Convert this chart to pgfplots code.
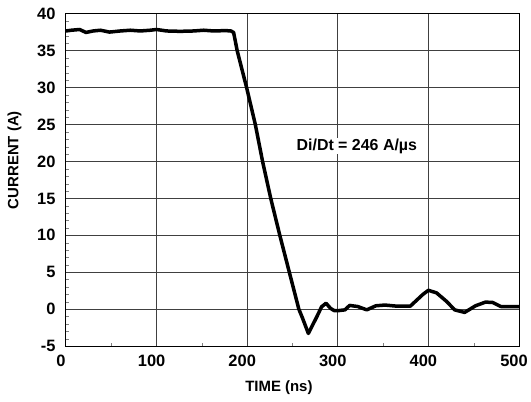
\documentclass[border=0pt]{standalone}
\usepackage{fontspec}
\setmainfont{Liberation Sans}
\usepackage{pgfplots}
\pgfplotsset{compat=1.18}

\begin{document}
\begin{tikzpicture}
\begin{axis}[
    name=ax,
    scale only axis,
    width=453bp, height=332bp,
    xmin=0, xmax=500, ymin=-5, ymax=40,
    xtick={0,100,...,500},
    ytick={-5,0,...,40},
    minor x tick num=1,
    minor y tick num=4,
    tick align=inside,
    major tick length=0pt,
    minor tick length=3bp,
    xtick pos=bottom, ytick pos=left,
    grid=major,
    major grid style={black!75, line width=1bp},
    axis line style={black, line width=1bp},
    /pgf/number format/assume math mode=true,
    tick label style={font=\fontsize{16.5}{18}\selectfont\bfseries},
    xticklabel style={yshift=-6bp, xshift=-5bp},
    yticklabel style={xshift=-7bp},
    xlabel={TIME (ns)},
    ylabel={CURRENT (A)},
    label style={font=\fontsize{15}{17}\selectfont\bfseries},
    xlabel style={at={(axis description cs:0.470,-0.1265)}, anchor=center},
    ylabel style={at={(axis description cs:-0.1137,0.56)}, anchor=center},
]
\addplot[black, line width=3.5bp, line join=round] coordinates {
    (0,37.7) (6,37.8) (15,37.9) (22,37.5) (30,37.7) (38,37.8) (48,37.55)
    (60,37.7) (71,37.8) (82,37.7) (93,37.8) (100,37.9) (111,37.7) (126,37.65)
    (141,37.7) (152,37.8) (163,37.7) (176,37.75) (182,37.7) (185,37.5)
    (189,35) (199.4,30) (209,25) (217,20) (226,15) (236,10) (246.5,5)
    (257,0) (261,-1.2) (267.5,-3.3) (277,-1) (282,0.3) (287,0.8) (292,0.1)
    (296,-0.2) (301,-0.2) (308,-0.1) (313,0.5) (322,0.35) (332,-0.1)
    (342,0.45) (352,0.55) (365,0.4) (380,0.4) (387,1.2) (394,2.0) (400,2.55)
    (409,2.2) (420,1.05) (429,-0.1) (440,-0.45) (452,0.45) (463,0.95)
    (471,0.9) (480,0.35) (490,0.35) (500,0.35)
};
\node[fill=white, inner sep=1bp, font=\fontsize{16}{18}\selectfont\bfseries]
    at (axis cs:321,22.1) {Di/Dt = 246 A/µs};
\end{axis}
\pgfresetboundingbox
\path (-66bp,-56bp) rectangle (465bp,346bp);
\end{tikzpicture}
\end{document}
